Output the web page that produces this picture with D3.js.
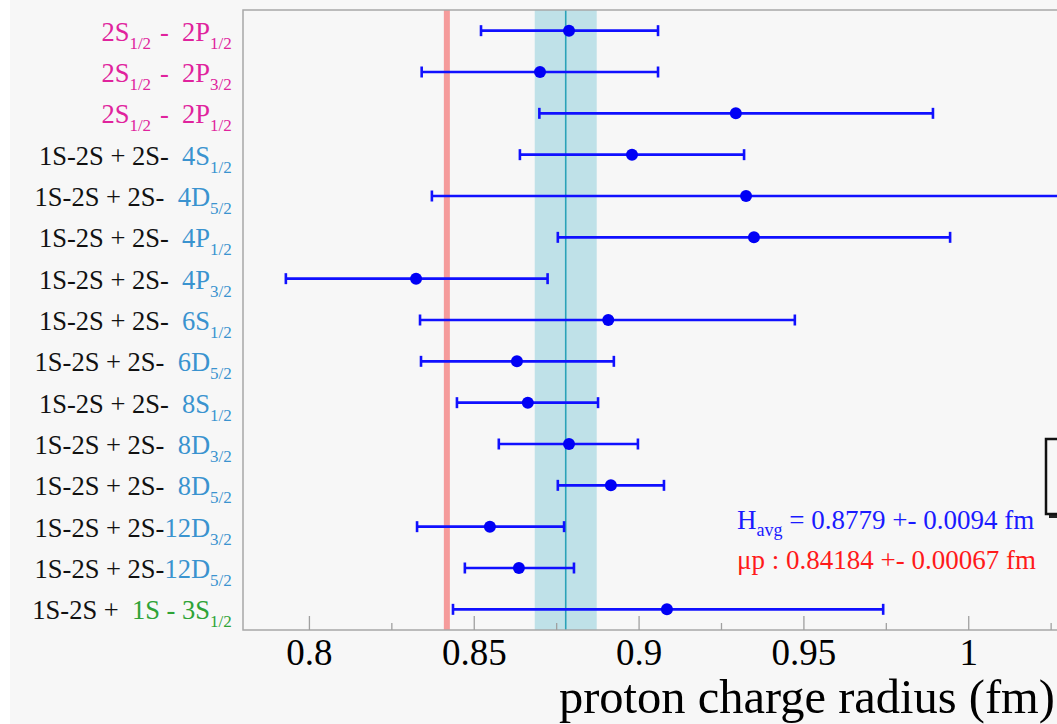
<!DOCTYPE html>
<html>
<head>
<meta charset="utf-8">
<script src="https://cdn.jsdelivr.net/npm/d3@7"></script>
<style>
  html, body { margin: 0; padding: 0; background: #ffffff; overflow: hidden; }
  svg { display: block; }
  text { font-family: "Liberation Serif", "DejaVu Serif", serif; white-space: pre; }
</style>
</head>
<body>
<svg id="chart" width="1057" height="724"></svg>
<script>
// ---- data ----
const prefixes = ["", "", "",
  "1S-2S + 2S-  ", "1S-2S + 2S-  ", "1S-2S + 2S-  ", "1S-2S + 2S-  ",
  "1S-2S + 2S-  ", "1S-2S + 2S-  ", "1S-2S + 2S-  ", "1S-2S + 2S-  ",
  "1S-2S + 2S-  ", "1S-2S + 2S-", "1S-2S + 2S-", "1S-2S +  "];
const transitions = ["2S_{1/2} -  2P_{1/2}", "2S_{1/2} -  2P_{3/2}", "2S_{1/2} -  2P_{1/2}",
  "4S_{1/2}", "4D_{5/2}", "4P_{1/2}", "4P_{3/2}", "6S_{1/2}", "6D_{5/2}",
  "8S_{1/2}", "8D_{3/2}", "8D_{5/2}", "12D_{3/2}", "12D_{5/2}", "1S - 3S_{1/2}"];
const groups = ["2S-2P", "2S-2P", "2S-2P", "2S-nl", "2S-nl", "2S-nl", "2S-nl", "2S-nl",
  "2S-nl", "2S-nl", "2S-nl", "2S-nl", "2S-nl", "2S-nl", "1S-3S"];
const radius = [0.8789, 0.8701, 0.9295, 0.8980, 0.9326, 0.9350, 0.8325, 0.8908,
  0.8631, 0.8664, 0.8789, 0.8916, 0.8549, 0.8637, 0.9086];
const lowErr = [0.8522, 0.8342, 0.8699, 0.8640, 0.8373, 0.8755, 0.7930, 0.8337,
  0.8340, 0.8449, 0.8576, 0.8755, 0.8328, 0.8473, 0.8437];
const highErr = [0.9059, 0.9059, 0.9893, 0.9320, 1.0280, 0.9945, 0.8724, 0.9474,
  0.8925, 0.8877, 0.8998, 0.9077, 0.8774, 0.8804, 0.9742];
const hAvg = 0.8779, hAvgErr = 0.0094;
const muP = 0.84184, muPErr = 0.00067;
const xTicks = [0.8, 0.85, 0.9, 0.95, 1];
const xMinorTicks = [0.825, 0.875, 0.925, 0.975, 1.025];
const xDomain = [0.78, 1.03];
const xTitle = "proton charge radius (fm)";

// ---- styles ----
const groupColor = { "2S-2P": "#e0239d", "2S-nl": "#3a93cf", "1S-3S": "#2ea336" };

const svg = d3.select("#chart");
const W = 1057, H = 724;
const frame = { left: 243, top: 10, bottom: 630 };
svg.append("rect").attr("x", 10).attr("y", 0).attr("width", W - 10).attr("height", H).attr("fill", "#f7f7f7");

const x = d3.scaleLinear().domain(xDomain).range([frame.left, frame.left + (xDomain[1] - xDomain[0]) * 3296.5]);
const y = d3.scaleBand().domain(d3.range(radius.length)).range([frame.top, frame.bottom]);
const cy = i => y(i) + y.bandwidth() / 2;
const xRight = x(xDomain[1]);

// bands
svg.append("rect").attr("x", x(muP - muPErr) - 0.8).attr("y", frame.top)
  .attr("width", x(muP + muPErr) - x(muP - muPErr) + 1.6).attr("height", frame.bottom - frame.top)
  .attr("fill", "#f59b9b");
svg.append("rect").attr("x", x(hAvg - hAvgErr)).attr("y", frame.top)
  .attr("width", x(hAvg + hAvgErr) - x(hAvg - hAvgErr)).attr("height", frame.bottom - frame.top)
  .attr("fill", "#bfe1e8");
svg.append("line").attr("x1", x(hAvg)).attr("x2", x(hAvg)).attr("y1", frame.top).attr("y2", frame.bottom)
  .attr("stroke", "#2aa2b8").attr("stroke-width", 1.6);

// frame
svg.append("path")
  .attr("d", `M${xRight},${frame.top}H${frame.left}V${frame.bottom}H${xRight}`)
  .attr("fill", "none").attr("stroke", "#a8a8a8").attr("stroke-width", 1.5);

// x axis
const xAxis = d3.axisBottom(x).tickValues(xTicks).tickSize(-14).tickPadding(0).tickFormat(d3.format("~g"));
const gx = svg.append("g").attr("transform", `translate(0,${frame.bottom})`).call(xAxis);
gx.select(".domain").remove();
gx.selectAll(".tick line").attr("stroke", "#a0a0a0").attr("stroke-width", 1.3);
gx.selectAll(".tick text").attr("dy", null).attr("y", 35).attr("font-size", 37)
  .attr("font-family", "Liberation Serif").attr("fill", "#000");
const gxm = svg.append("g").attr("transform", `translate(0,${frame.bottom})`)
  .call(d3.axisBottom(x).tickValues(xMinorTicks).tickSize(-7).tickFormat(""));
gxm.select(".domain").remove();
gxm.selectAll(".tick line").attr("stroke", "#a0a0a0").attr("stroke-width", 1.3);

svg.append("text").attr("x", 1055).attr("y", 713).attr("text-anchor", "end")
  .attr("font-size", 48.5).attr("fill", "#000").text(xTitle);

// error bars
const bars = svg.append("g");
radius.forEach((r, i) => {
  const yy = cy(i);
  bars.append("line").attr("x1", x(lowErr[i])).attr("x2", x(highErr[i])).attr("y1", yy).attr("y2", yy)
    .attr("stroke", "#1010ff").attr("stroke-width", 2.6);
  [lowErr[i], highErr[i]].forEach(v => {
    if (v < xDomain[1]) {
      bars.append("line").attr("x1", x(v)).attr("x2", x(v)).attr("y1", yy - 5.5).attr("y2", yy + 5.5)
        .attr("stroke", "#1010ff").attr("stroke-width", 2.6);
    }
  });
  bars.append("circle").attr("cx", x(r)).attr("cy", yy).attr("r", 6).attr("fill", "#0000f5");
});

// labels
function addRich(t, str, color) {
  const parts = str.split(/(_\{[^}]*\})/).filter(s => s.length);
  parts.forEach(p => {
    if (p.startsWith("_{")) {
      t.append("tspan").attr("fill", color).attr("font-size", 17).attr("dy", 8).text(p.slice(2, -1));
      t.append("tspan").attr("font-size", 26.5).attr("dy", -8).text("\u200A");
    } else {
      t.append("tspan").attr("fill", color).text(p);
    }
  });
}
radius.forEach((r, i) => {
  const t = svg.append("text").attr("x", 234).attr("y", cy(i) + 10).attr("text-anchor", "end")
    .attr("font-size", 26.5).attr("fill", "#000");
  if (prefixes[i]) t.append("tspan").attr("fill", "#111").text(prefixes[i]);
  addRich(t, transitions[i], groupColor[groups[i]]);
});

// averages text
const t1 = svg.append("text").attr("x", 737).attr("y", 529).attr("font-size", 27).attr("fill", "#1a1aff");
t1.append("tspan").text("H");
t1.append("tspan").attr("font-size", 18).attr("dy", 7).text("avg");
t1.append("tspan").attr("dy", -7).text(" = " + hAvg.toFixed(4) + " +- " + hAvgErr.toFixed(4) + " fm");
svg.append("text").attr("x", 737).attr("y", 569).attr("font-size", 27).attr("fill", "#ff1a1a")
  .text("\u03BCp : " + muP.toFixed(5) + " +- " + muPErr.toFixed(5) + " fm");

// legend box (partially visible)
svg.append("rect").attr("x", 1049).attr("y", 442).attr("width", 100).attr("height", 76).attr("fill", "#222");
svg.append("rect").attr("x", 1046).attr("y", 439).attr("width", 100).attr("height", 75)
  .attr("fill", "#f7f7f7").attr("stroke", "#111").attr("stroke-width", 2.5);
</script>
</body>
</html>
